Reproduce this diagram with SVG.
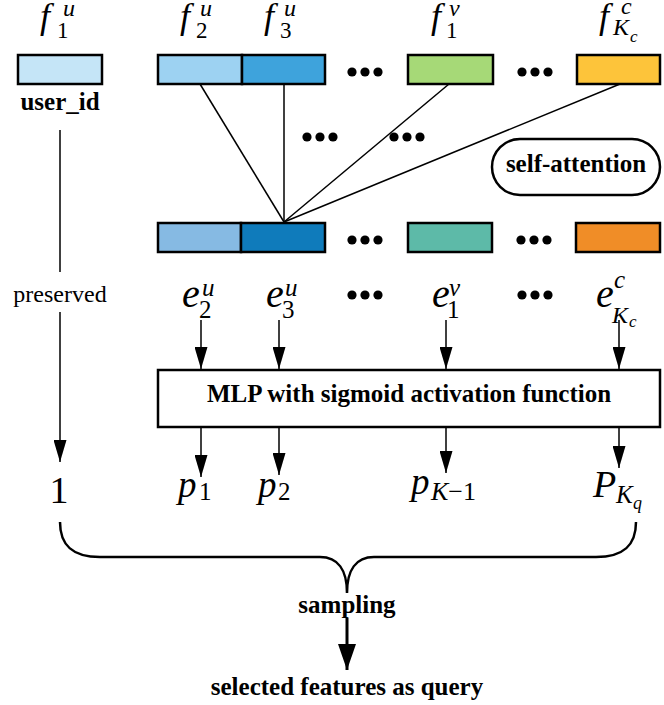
<svg xmlns="http://www.w3.org/2000/svg" width="664" height="705" viewBox="0 0 664 705">
<style>
  text { font-family: "Liberation Serif", "Times New Roman", serif; fill: #000; }
  .b { font-weight: bold; font-size: 25px; }
  .r { font-size: 24px; }
  .m { font-style: italic; }
  .box { stroke: #000; stroke-width: 2.5; }
  .ln { stroke: #000; stroke-width: 1.5; fill: none; }
</style>
<defs>
  <marker id="arr" markerUnits="userSpaceOnUse" markerWidth="22" markerHeight="13" refX="22" refY="6.5" orient="auto">
    <path d="M0,0 L22,6.5 L0,13 z" fill="#000"/>
  </marker>
  <marker id="arrBig" markerUnits="userSpaceOnUse" markerWidth="26" markerHeight="18" refX="26" refY="9" orient="auto">
    <path d="M0,0 L26,9 L0,18 z" fill="#000"/>
  </marker>
  <g id="dots3">
    <circle cx="0" cy="0" r="4.6"/>
    <circle cx="13" cy="0" r="4.6"/>
    <circle cx="26" cy="0" r="4.6"/>
  </g>
</defs>

<!-- connectors -->
<g id="connectors">
  <line class="ln" x1="200" y1="84" x2="284" y2="222"/>
  <line class="ln" x1="284" y1="84" x2="284" y2="222"/>
  <line class="ln" x1="449" y1="84" x2="284" y2="222"/>
  <line class="ln" x1="620" y1="84" x2="284" y2="222"/>
  <line class="ln" x1="60" y1="130" x2="60" y2="272"/>
  <line class="ln" x1="60" y1="312" x2="60" y2="462" marker-end="url(#arr)"/>
  <line class="ln" x1="201" y1="320" x2="201" y2="369" marker-end="url(#arr)"/>
  <line class="ln" x1="279" y1="320" x2="279" y2="369" marker-end="url(#arr)"/>
  <line class="ln" x1="446" y1="320" x2="446" y2="369" marker-end="url(#arr)"/>
  <line class="ln" x1="619" y1="320" x2="619" y2="369" marker-end="url(#arr)"/>
  <line class="ln" x1="201" y1="428" x2="201" y2="477" marker-end="url(#arr)"/>
  <line class="ln" x1="279" y1="428" x2="279" y2="475" marker-end="url(#arr)"/>
  <line class="ln" x1="446" y1="428" x2="446" y2="473" marker-end="url(#arr)"/>
  <line class="ln" x1="619" y1="428" x2="619" y2="468" marker-end="url(#arr)"/>
  <path class="ln" style="stroke-width:2.5" d="M60,522 C60,545 72,557 100,557 L320,557 C338,557 347,570 347,593 C347,570 356,557 374,557 L596,557 C624,557 636,545 636,522"/>
  <line class="ln" style="stroke-width:3" x1="347" y1="618" x2="347" y2="670" marker-end="url(#arrBig)"/>
</g>

<!-- top features -->
<g id="f1u">
  <rect class="box" x="18" y="55" width="84" height="29" fill="#c5e5f7"/>
  <text class="m" x="40" y="28" font-size="36">f</text>
  <text x="57" y="38" font-size="23">1</text>
  <text class="m" x="63" y="16" font-size="24">u</text>
  <text class="b" x="60" y="110" text-anchor="middle">user_id</text>
</g>
<g id="f2u">
  <rect class="box" x="158" y="55" width="84" height="29" fill="#9dd2f2"/>
  <text class="m" x="180" y="28" font-size="36">f</text>
  <text x="196" y="38" font-size="23">2</text>
  <text class="m" x="200" y="16" font-size="24">u</text>
</g>
<g id="f3u">
  <rect class="box" x="242" y="55" width="83" height="29" fill="#3ea3dc"/>
  <text class="m" x="264" y="28" font-size="36">f</text>
  <text x="280" y="38" font-size="23">3</text>
  <text class="m" x="284" y="16" font-size="24">u</text>
</g>
<g id="f1v">
  <rect class="box" x="408" y="55" width="85" height="29" fill="#a6d977"/>
  <text class="m" x="431" y="28" font-size="36">f</text>
  <text x="446" y="38" font-size="23">1</text>
  <text class="m" x="449" y="16" font-size="24">v</text>
</g>
<g id="fKc">
  <rect class="box" x="577" y="55" width="83" height="29" fill="#fdc43a"/>
  <text class="m" x="599" y="28" font-size="36">f</text>
  <text class="m" x="613" y="35" font-size="24">K</text>
  <text class="m" x="630" y="42" font-size="17">c</text>
  <text class="m" x="621" y="14" font-size="24">c</text>
</g>
<g id="topdots">
  <use href="#dots3" x="352" y="72"/>
  <use href="#dots3" x="522" y="72"/>
  <use href="#dots3" x="307" y="137"/>
  <use href="#dots3" x="394" y="137"/>
</g>

<g id="selfatt">
  <rect x="492" y="139" width="168" height="56" rx="28" ry="28" fill="#fff" stroke="#000" stroke-width="2.5"/>
  <text class="b" x="576" y="172" text-anchor="middle">self-attention</text>
</g>

<!-- embeddings -->
<g id="e2u">
  <rect class="box" x="158" y="223" width="83" height="29" fill="#86bae3"/>
  <text class="m" x="182" y="307" font-size="40">e</text>
  <text x="199" y="318" font-size="25">2</text>
  <text class="m" x="202" y="296" font-size="25">u</text>
</g>
<g id="e3u">
  <rect class="box" x="241" y="223" width="84" height="29" fill="#0f7bbb"/>
  <text class="m" x="266" y="307" font-size="40">e</text>
  <text x="282" y="318" font-size="25">3</text>
  <text class="m" x="285" y="296" font-size="25">u</text>
</g>
<g id="e1v">
  <rect class="box" x="408" y="223" width="84" height="29" fill="#5dbaa8"/>
  <text class="m" x="432" y="307" font-size="40">e</text>
  <text x="447" y="318" font-size="25">1</text>
  <text class="m" x="449" y="296" font-size="25">v</text>
</g>
<g id="eKc">
  <rect class="box" x="576" y="223" width="84" height="29" fill="#f08d27"/>
  <text class="m" x="596" y="307" font-size="40">e</text>
  <text class="m" x="612" y="323" font-size="24">K</text>
  <text class="m" x="629" y="327" font-size="17">c</text>
  <text class="m" x="614" y="288" font-size="25">c</text>
</g>
<g id="middots">
  <use href="#dots3" x="352" y="240"/>
  <use href="#dots3" x="521" y="240"/>
  <use href="#dots3" x="352" y="295"/>
  <use href="#dots3" x="522" y="295"/>
</g>

<g id="preserved">
  <text class="r" x="60" y="302" text-anchor="middle">preserved</text>
</g>

<g id="mlp">
  <rect x="158" y="370" width="502" height="57" fill="#fff" stroke="#000" stroke-width="2.5"/>
  <text class="b" x="409" y="402" text-anchor="middle">MLP with sigmoid activation function</text>
</g>

<!-- outputs -->
<g id="one"><text x="59" y="503" font-size="38" text-anchor="middle">1</text></g>
<g id="p1">
  <text class="m" x="178" y="497" font-size="37">p</text>
  <text x="199" y="500" font-size="25">1</text>
</g>
<g id="p2">
  <text class="m" x="258" y="497" font-size="37">p</text>
  <text x="278" y="500" font-size="25">2</text>
</g>
<g id="pK1">
  <text class="m" x="411" y="494" font-size="37">p</text>
  <text x="431" y="500" font-size="26"><tspan font-style="italic">K</tspan>−1</text>
</g>
<g id="PKq">
  <text class="m" x="593" y="497" font-size="38">P</text>
  <text class="m" x="616" y="503" font-size="25">K</text>
  <text class="m" x="633" y="509" font-size="18">q</text>
</g>

<g id="sampling">
  <text class="b" x="347" y="613" text-anchor="middle">sampling</text>
</g>
<g id="query">
  <text class="b" x="347" y="695" text-anchor="middle">selected features as query</text>
</g>
</svg>
